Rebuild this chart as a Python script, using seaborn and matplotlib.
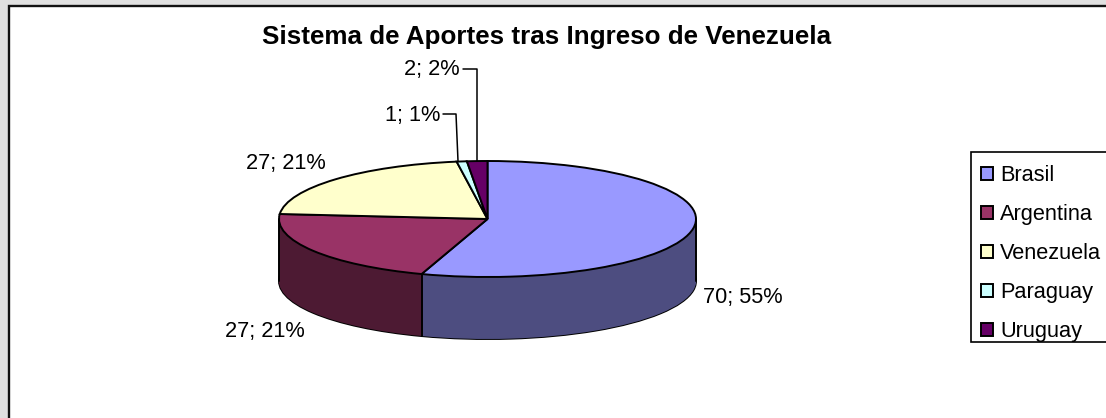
import numpy as np
import matplotlib
matplotlib.use("Agg")
import matplotlib.pyplot as plt
from matplotlib.patches import Rectangle
import seaborn as sns

categories = ["Brasil", "Argentina", "Venezuela", "Paraguay", "Uruguay"]
values = [70, 27, 27, 1, 2]
percents = [55, 21, 21, 1, 2]
colors = ["#9999FF", "#993366", "#FFFFCC", "#CCFFFF", "#660066"]

sns.set_theme(style="white")
plt.rcParams["font.family"] = ["Liberation Sans", "DejaVu Sans"]

W, H = 1106, 418
cx, cy, rx, ry, depth = 487.5, 219, 208.5, 58, 62

fig = plt.figure(figsize=(W / 100, H / 100), dpi=100, facecolor="#E0E0E0")

# pixel overlay for frame, labels and legend
bg = fig.add_axes([0, 0, 1, 1], zorder=0)
bg.set_xlim(0, W)
bg.set_ylim(H, 0)
bg.axis("off")
bg.add_patch(Rectangle((8.5, 6), W + 20, H + 20, facecolor="white", edgecolor="#111111", lw=1.7))

ax = fig.add_axes([0, 0, 1, 1], zorder=1)
ax.patch.set_alpha(0)

palette = sns.color_palette(colors)
dark = [tuple(c * 0.5 for c in col) for col in palette]
d = depth / ry
edge = {"edgecolor": "black", "linewidth": 1.4}

# side of the pie: a stack of darker pies
ax.pie(values, colors=dark, startangle=90, counterclock=False, center=(0, -d), wedgeprops=edge)
for step in np.linspace(-d, 0, depth + 1):
    ax.pie(values, colors=dark, startangle=90, counterclock=False, center=(0, step),
           wedgeprops={"linewidth": 0})

# vertical edges of the side
share = np.cumsum(values) / np.sum(values)
split = np.sin(2 * np.pi * share[0])
for x in [-1, split, 1]:
    ax.plot([x, x], [np.sqrt(1 - x ** 2) * -1, np.sqrt(1 - x ** 2) * -1 - d], color="black", lw=1.4)

wedges, _ = ax.pie(values, colors=palette, startangle=90, counterclock=False, center=(0, 0), wedgeprops=edge)

ax.set_aspect("auto")
ax.set_xlim(-cx / rx, (W - cx) / rx)
ax.set_ylim(-(H - cy) / ry, cy / ry)
ax.axis("off")

top = fig.add_axes([0, 0, 1, 1], zorder=2)
top.set_xlim(0, W)
top.set_ylim(H, 0)
top.axis("off")

top.text(546.5, 37, "Sistema de Aportes tras Ingreso de Venezuela", ha="center", va="center",
         fontsize=18.7, fontweight="bold", color="black")

labels = [f"{v}; {p}%" for v, p in zip(values, percents)]
spots = [(703, 298, "left"), (305, 331, "right"), (326, 163, "right"), (440, 115, "right"), (460, 70, "right")]
for lab, (x, y, ha) in zip(labels, spots):
    top.text(x, y, lab, ha=ha, va="center", fontsize=15.7, color="black")

top.plot([443, 456, 458], [114, 114, 161], color="black", lw=1.1)
top.plot([463, 477, 477], [69, 69, 161], color="black", lw=1.1)

top.add_patch(Rectangle((971, 152), W, 190, facecolor="white", edgecolor="black", lw=1.2))
top.legend(wedges, categories, loc="upper left", bbox_to_anchor=(971, 155), bbox_transform=top.transData,
           fontsize=15.7, frameon=False,
           borderaxespad=0, borderpad=0.45, labelspacing=0.83, handlelength=0.55, handleheight=0.55,
           handletextpad=0.33, labelcolor="black")

fig.savefig("out.png", dpi=100, facecolor=fig.get_facecolor())
